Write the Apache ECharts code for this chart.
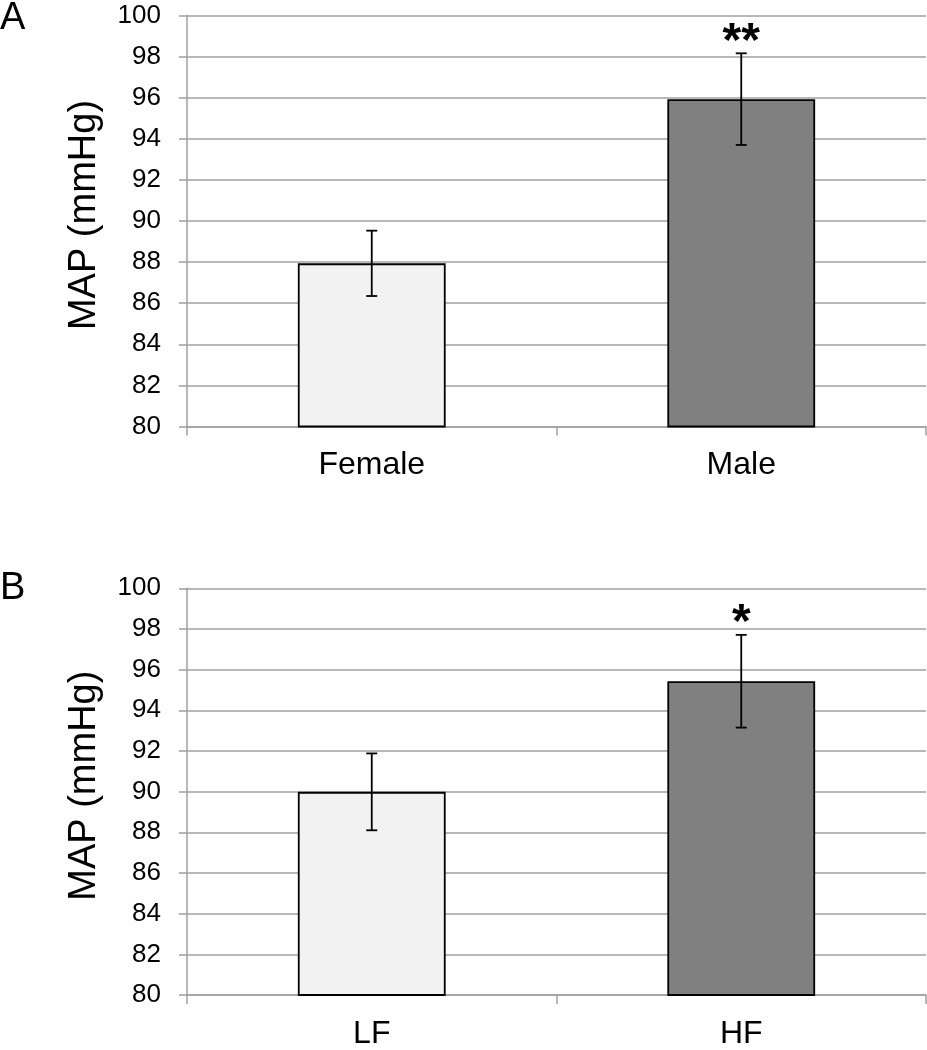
<!DOCTYPE html>
<html>
<head>
<meta charset="utf-8">
<script src="https://cdn.jsdelivr.net/npm/echarts@6/dist/echarts.min.js"></script>
<style>html,body{margin:0;padding:0;background:#fff;}#c{width:927px;height:1050px;}</style>
</head>
<body>
<div id="c"></div>
<script>
// Panel A
var catsA = ['Female', 'Male'];
var meanA = [87.94, 95.93];
var errA = [1.59, 2.23];
var sigA = ['', '**'];
// Panel B
var catsB = ['LF', 'HF'];
var meanB = [89.99, 95.43];
var errB = [1.89, 2.28];
var sigB = ['', '*'];
// Axis
var yTicks = [80, 82, 84, 86, 88, 90, 92, 94, 96, 98, 100];
var panelLabels = ['A', 'B'];
var yTitle = 'MAP (mmHg)';

var FONT = '"Liberation Sans", Arial, sans-serif';
var barColors = ['#f2f2f2', '#808080'];
var gridColor = '#a0a0a0';

var chart = echarts.init(document.getElementById('c'));

function errData(means, errs) {
  return means.map(function (m, i) { return [i, m - errs[i], m + errs[i]]; });
}
function barData(means) {
  return means.map(function (m, i) {
    return { value: m, itemStyle: { color: barColors[i] } };
  });
}
function makeRender(sigs) {
  return function (params, api) {
    var x = api.value(0);
    var lo = api.coord([x, api.value(1)]);
    var hi = api.coord([x, api.value(2)]);
    var half = 5.5;
    var st = { stroke: '#000', lineWidth: 1.8 };
    var children = [
      { type: 'line', shape: { x1: lo[0], y1: lo[1], x2: hi[0], y2: hi[1] }, style: st },
      { type: 'line', shape: { x1: lo[0] - half, y1: lo[1], x2: lo[0] + half, y2: lo[1] }, style: st },
      { type: 'line', shape: { x1: hi[0] - half, y1: hi[1], x2: hi[0] + half, y2: hi[1] }, style: st }
    ];
    var s = sigs[params.dataIndex];
    if (s) {
      children.push({
        type: 'text',
        style: {
          text: s, x: hi[0], y: hi[1] + 13, align: 'center', verticalAlign: 'bottom',
          font: 'bold 48px ' + FONT, fill: '#000'
        }
      });
    }
    return { type: 'group', children: children };
  };
}

function yAxis(gridIndex) {
  return {
    type: 'value', gridIndex: gridIndex, min: yTicks[0], max: yTicks[yTicks.length - 1], interval: 2,
    name: yTitle, nameLocation: 'middle', nameGap: 83,
    nameTextStyle: { fontFamily: FONT, fontSize: 38, color: '#000', padding: [0, 0, 0, 12] },
    axisLine: { show: true, lineStyle: { color: gridColor, width: 1.5 } },
    axisTick: { show: true, length: 8, lineStyle: { color: gridColor, width: 1.5 } },
    axisLabel: { fontFamily: FONT, fontSize: 26, color: '#000', margin: 26 },
    splitLine: { show: true, lineStyle: { color: gridColor, width: 1.5 } }
  };
}
function xAxis(gridIndex, cats) {
  return {
    type: 'category', gridIndex: gridIndex, data: cats,
    axisLine: { show: true, lineStyle: { color: gridColor, width: 1.5 } },
    axisTick: { show: true, length: 9, alignWithLabel: false, lineStyle: { color: gridColor, width: 1.5 } },
    axisLabel: { fontFamily: FONT, fontSize: 32, color: '#000', margin: 23 }
  };
}

var option = {
  backgroundColor: '#fff',
  animation: false,
  grid: [
    { left: 187, right: 1, top: 15.5, height: 411 },
    { left: 187, right: 1, top: 588.3, height: 411 }
  ],
  xAxis: [xAxis(0, catsA), xAxis(1, catsB)],
  yAxis: [yAxis(0), yAxis(1)],
  graphic: [
    { type: 'text', left: 0, top: 0, style: { text: panelLabels[0], font: '38px ' + FONT, fill: '#000' } },
    { type: 'text', left: 0, top: 570, style: { text: panelLabels[1], font: '38px ' + FONT, fill: '#000' } }
  ],
  series: [
    {
      type: 'bar', xAxisIndex: 0, yAxisIndex: 0, data: barData(meanA), barWidth: '40%',
      itemStyle: { borderColor: '#000', borderWidth: 1.8 }
    },
    {
      type: 'custom', xAxisIndex: 0, yAxisIndex: 0, data: errData(meanA, errA),
      renderItem: makeRender(sigA), z: 5
    },
    {
      type: 'bar', xAxisIndex: 1, yAxisIndex: 1, data: barData(meanB), barWidth: '40%',
      itemStyle: { borderColor: '#000', borderWidth: 1.8 }
    },
    {
      type: 'custom', xAxisIndex: 1, yAxisIndex: 1, data: errData(meanB, errB),
      renderItem: makeRender(sigB), z: 5
    }
  ]
};
chart.setOption(option);
</script>
</body>
</html>
